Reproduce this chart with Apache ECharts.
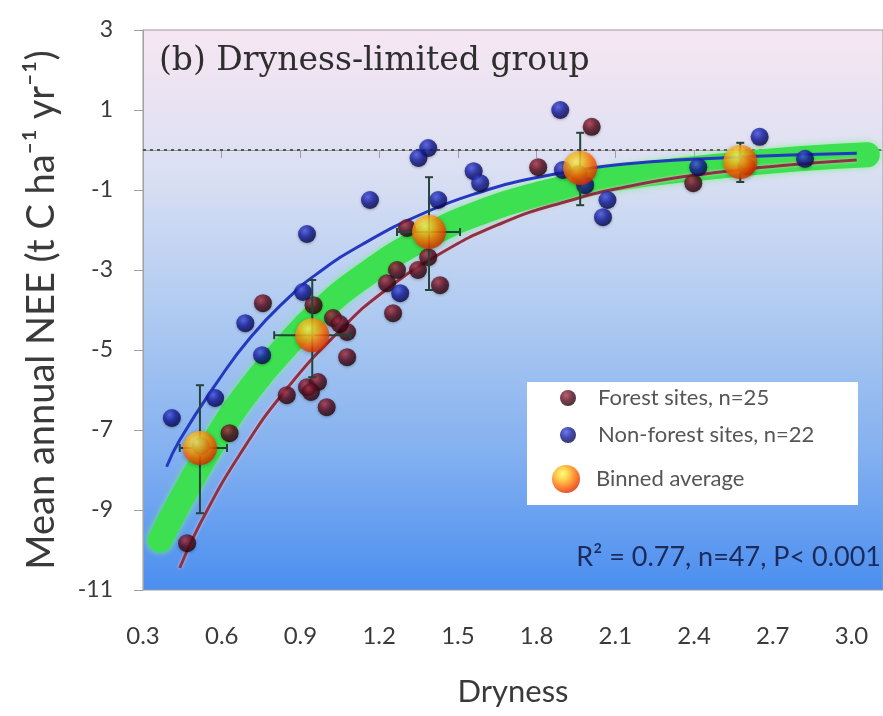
<!DOCTYPE html>
<html><head><meta charset="utf-8">
<script src="https://cdn.jsdelivr.net/npm/echarts@6/dist/echarts.min.js"></script>
<style>html,body{margin:0;padding:0;background:#fff}#c{width:883px;height:716px}</style>
</head><body><div id="c"></div>
<script>
// ---- data ----
const forestSites = [[0.468,-9.83],[0.63,-7.08],[0.757,-3.83],[0.848,-6.13],[0.925,-5.93],[0.967,-5.8],[0.94,-6.05],[1.0,-6.43],[0.95,-3.88],[1.024,-4.2],[1.078,-4.55],[1.05,-4.35],[1.078,-5.18],[1.23,-3.33],[1.253,-4.08],[1.268,-3.0],[1.348,-3.0],[1.387,-2.68],[1.432,-3.38],[1.306,-1.95],[1.806,-0.43],[2.01,0.58],[2.397,-0.83],[1.96,-0.6],[2.6,-0.4]];
const nonForestSites = [[0.41,-6.7],[0.575,-6.2],[0.69,-4.33],[0.754,-5.13],[0.925,-2.1],[0.91,-3.55],[1.165,-1.25],[1.28,-3.58],[1.387,0.05],[1.35,-0.2],[1.425,-1.25],[1.56,-0.53],[1.585,-0.83],[1.89,1.0],[1.9,-0.5],[1.985,-0.88],[2.07,-1.25],[2.053,-1.68],[2.416,-0.43],[2.65,0.33],[2.823,-0.22],[0.52,-7.4]];
const binX    = [0.517, 0.945, 1.39, 1.966, 2.576];
const binY    = [-7.45, -4.63, -2.05, -0.45, -0.30];
const binYlo  = [-9.08, -5.68, -3.50, -1.38, -0.80];
const binYhi  = [-5.88, -3.25, -0.68, 0.43, 0.18];
const binXlo  = [0.44, 0.80, 1.268, 1.966, 2.576];
const binXhi  = [0.62, 1.09, 1.508, 1.966, 2.576];
const fitAll       = [[0.365,-9.75],[0.44,-8.8],[0.58,-7.2],[0.71,-5.95],[0.86,-4.8],[0.96,-4.12],[1.13,-3.2],[1.38,-2.17],[1.61,-1.5],[1.8,-1.12],[2.0,-0.82],[2.25,-0.58],[2.5,-0.4],[2.8,-0.22],[3.06,-0.12]];
const fitNonForest = [[0.39,-7.92],[0.44,-7.25],[0.58,-5.83],[0.71,-4.68],[0.86,-3.66],[0.96,-3.11],[1.13,-2.38],[1.38,-1.55],[1.61,-1.0],[1.74,-0.77],[2.0,-0.46],[2.25,-0.29],[2.5,-0.2],[2.8,-0.12],[3.02,-0.08]];
const fitForest    = [[0.44,-10.45],[0.517,-9.35],[0.67,-7.6],[0.85,-5.95],[1.06,-4.45],[1.215,-3.55],[1.43,-2.6],[1.66,-1.85],[1.89,-1.33],[2.195,-0.85],[2.5,-0.55],[2.77,-0.37],[3.02,-0.25]];
const zeroLine = [[0.3,0],[3.12,0]];
const xTicks = {min:0.3, max:3.12, step:0.3};
const yTicks = {min:-11, max:3, step:2};
const titleText = '(b) Dryness-limited group';
const statText = 'R\u00b2 = 0.77, n=47, P< 0.001';

// ---- chart ----
const chart = echarts.init(document.getElementById('c'));
const sans = 'Lato';
const rad = (stops)=>({type:'radial',x:0.38,y:0.32,r:0.7,colorStops:stops.map((c,i)=>({offset:i/(stops.length-1),color:c}))});
const maroonG = rad(['#b23848','#5a0c20','#1e0308']);
const blueG = rad(['#4c5ae8','#141c9e','#050642']);
const ballG = rad(['#ffff60','#ffc020','#ff6a00','#d82800']);
const bins = binX.map((x,i)=>[x,binY[i],binYlo[i],binYhi[i],binXlo[i],binXhi[i]]);

chart.setOption({
  animation:false,
  grid:{left:143,right:0,top:30,bottom:126,show:true,borderColor:'#9a9a9a',borderWidth:1,
    backgroundColor:{type:'linear',x:0,y:0,x2:0,y2:1,colorStops:[
      {offset:0,color:'#f7e6f2'},{offset:0.25,color:'#dbe0f3'},{offset:0.5,color:'#b0cbf1'},{offset:0.75,color:'#84b1f0'},{offset:1,color:'#4b8ef0'}]}},
  xAxis:{type:'value',min:xTicks.min,max:xTicks.max,interval:xTicks.step,
    name:'Dryness',nameLocation:'middle',nameGap:86,nameTextStyle:{fontFamily:sans,fontSize:31,color:'#3a3a3a'},
    axisLine:{show:true,lineStyle:{color:'#a0a0a0'}},axisTick:{show:true,length:8,lineStyle:{color:'#a0a0a0'}},
    axisLabel:{margin:34,fontFamily:sans,fontSize:24,color:'#3a3a3a',showMaxLabel:false,formatter:v=>v.toFixed(1)},
    splitLine:{show:false}},
  yAxis:{type:'value',min:yTicks.min,max:yTicks.max,interval:yTicks.step,
    name:'Mean annual NEE (t C ha\u207b\u00b9 yr\u207b\u00b9)',nameLocation:'middle',nameGap:82,nameRotate:90,
    nameTextStyle:{fontFamily:sans,fontSize:38,color:'#3a3a3a'},
    axisLine:{show:true,lineStyle:{color:'#a0a0a0'}},axisTick:{show:true,length:9,lineStyle:{color:'#a0a0a0'}},
    axisLabel:{margin:30,fontFamily:sans,fontSize:23,color:'#3a3a3a'},splitLine:{show:false}},
  legend:[
    {data:['Forest sites, n=25','Non-forest sites, n=22'],orient:'vertical',left:560,top:387,padding:0,itemWidth:50,itemHeight:16,itemGap:15,
      textStyle:{fontFamily:sans,fontSize:22,color:'#555'}},
    {data:['Binned average'],orient:'vertical',left:552,top:465,padding:0,itemWidth:50,itemHeight:28,
      textStyle:{fontFamily:sans,fontSize:22,color:'#555'}}
  ],
  graphic:[
    {type:'rect',left:527,top:382,shape:{width:331,height:123},style:{fill:'#ffffff'},z:3},
    {type:'text',left:159,top:45,style:{text:titleText,font:'33px "DejaVu Serif"',fill:'#2e2e2e'},z:5},
    {type:'text',right:2,top:544,style:{text:statText,font:'27px Lato',fill:'#1c2b5c'},z:5}
  ],
  series:[
    {type:'line',data:zeroLine,symbol:'none',silent:true,lineStyle:{color:'#555',width:2,type:[3,4]},z:1},
    {type:'line',data:fitAll,smooth:0.5,symbol:'none',silent:true,
      lineStyle:{color:'#3ce050',width:25,cap:'round',shadowBlur:6,shadowColor:'rgba(120,240,130,0.9)'},z:2},
    {type:'line',data:fitNonForest,smooth:0.5,symbol:'none',silent:true,lineStyle:{color:'#2438c0',width:3},z:3},
    {type:'line',data:fitForest,smooth:0.5,symbol:'none',silent:true,lineStyle:{color:'#8a3346',width:3,shadowBlur:3,shadowColor:'rgba(255,190,200,0.9)'},z:3},
    {name:'Forest sites, n=25',type:'scatter',data:forestSites,symbolSize:18,itemStyle:{color:maroonG,shadowBlur:3,shadowColor:'rgba(0,0,0,0.35)',shadowOffsetY:1},z:4},
    {name:'Non-forest sites, n=22',type:'scatter',data:nonForestSites,symbolSize:18,itemStyle:{color:blueG,shadowBlur:3,shadowColor:'rgba(0,0,0,0.35)',shadowOffsetY:1},z:4},
    {type:'custom',data:bins,z:5,silent:true,renderItem:(p,api)=>{
      const c=api.coord([api.value(0),api.value(1)]);
      const lo=api.coord([api.value(0),api.value(2)]), hi=api.coord([api.value(0),api.value(3)]);
      const xl=api.coord([api.value(4),api.value(1)]), xh=api.coord([api.value(5),api.value(1)]);
      const st={stroke:'#24443a',lineWidth:2}; const cap=4;
      const ch=[
        {type:'line',shape:{x1:c[0],y1:lo[1],x2:c[0],y2:hi[1]},style:st},
        {type:'line',shape:{x1:c[0]-cap,y1:lo[1],x2:c[0]+cap,y2:lo[1]},style:st},
        {type:'line',shape:{x1:c[0]-cap,y1:hi[1],x2:c[0]+cap,y2:hi[1]},style:st}];
      if(xh[0]-xl[0]>1){
        ch.push({type:'line',shape:{x1:xl[0],y1:c[1],x2:xh[0],y2:c[1]},style:st},
          {type:'line',shape:{x1:xl[0],y1:c[1]-cap,x2:xl[0],y2:c[1]+cap},style:st},
          {type:'line',shape:{x1:xh[0],y1:c[1]-cap,x2:xh[0],y2:c[1]+cap},style:st});
      }
      return {type:'group',children:ch};
    }},
    {name:'Binned average',type:'scatter',data:binX.map((x,i)=>[x,binY[i]]),symbolSize:34,
      itemStyle:{color:ballG,shadowBlur:4,shadowColor:'rgba(0,0,0,0.35)',shadowOffsetY:1},z:6}
  ]
});
</script></body></html>
